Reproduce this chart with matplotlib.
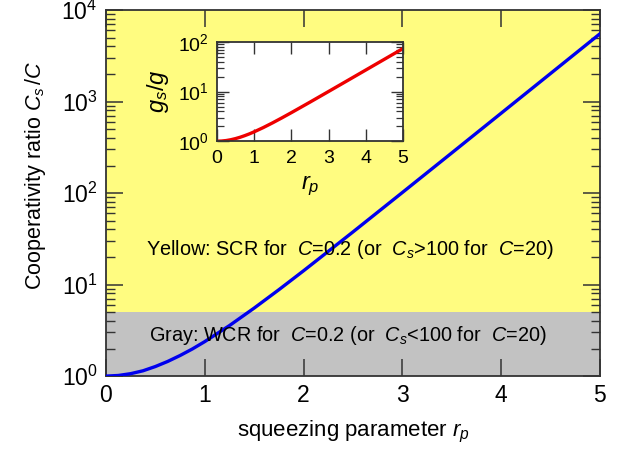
import matplotlib
matplotlib.use("Agg")
import matplotlib.pyplot as plt
import matplotlib.ticker as mticker

plt.rcParams.update({
    "font.family": "Liberation Sans",
    "mathtext.fontset": "custom",
    "mathtext.rm": "Liberation Sans",
    "mathtext.it": "Liberation Sans:italic",
    "mathtext.bf": "Liberation Sans:bold",
    "axes.edgecolor": "#333333",
    "axes.linewidth": 1.3,
})

# values
r_p = [0, 0.125, 0.25, 0.375, 0.5, 0.625, 0.75, 0.875, 1.0, 1.25, 1.5, 1.75,
       2.0, 2.5, 3.0, 3.5, 4.0, 4.5, 5.0]
coop_ratio = [1.0, 1.016, 1.063, 1.143, 1.272, 1.446, 1.678, 1.980, 2.381,
              3.565, 5.533, 8.785, 14.15, 37.6, 101.4, 274.6, 745.7, 2026, 5507]
g_ratio = [1.0, 1.008, 1.031, 1.071, 1.128, 1.202, 1.295, 1.407, 1.543,
           1.888, 2.352, 2.964, 3.762, 6.132, 10.07, 16.57, 27.31, 45.01, 74.21]

BOUNDARY = 5
YELLOW = "#FFFC80"
GRAY = "#C2C2C2"

fig = plt.figure(figsize=(6.23, 4.57), dpi=100)
ax = fig.add_axes([0.170, 0.177, 0.793, 0.801])
ax.set_yscale("log")
ax.set_xlim(0, 5)
ax.set_ylim(1, 1e4)
ax.axhspan(1, BOUNDARY, color=GRAY, lw=0, zorder=0)
ax.axhspan(BOUNDARY, 1e4, color=YELLOW, lw=0, zorder=0)
ax.plot(r_p, coop_ratio, color="#0000EE", lw=2.4, zorder=3)

ax.xaxis.set_major_locator(mticker.MultipleLocator(1))
ax.tick_params(which="both", direction="in", top=True, right=True,
               labelsize=16.5, colors="#333333", labelcolor="black")
ax.tick_params(which="major", length=12, width=1.1, pad=6)
ax.tick_params(which="minor", length=6.5, width=1.0)
ax.set_xlabel("squeezing parameter $r_p$", fontsize=16, labelpad=8)
ax.set_ylabel("Cooperativity ratio $C_s\\,/C$", fontsize=15.5, labelpad=4)
ax.yaxis.set_label_coords(-0.118, 0.55)

ax.text(2.47, 24, "Yellow: SCR for  $C$=0.2 (or  $C_s$>100 for  $C$=20)",
        ha="center", va="center", fontsize=14.3, zorder=4)
ax.text(2.45, 2.75, "Gray: WCR for  $C$=0.2 (or  $C_s$<100 for  $C$=20)",
        ha="center", va="center", fontsize=14.3, zorder=4)

ins = fig.add_axes([0.348, 0.691, 0.299, 0.217])
ins.set_facecolor("white")
ins.set_yscale("log")
ins.set_xlim(0, 5)
ins.set_ylim(1, 100)
ins.plot(r_p, g_ratio, color="#EE0000", lw=2.4)
ins.xaxis.set_major_locator(mticker.MultipleLocator(1))
ins.tick_params(which="both", direction="in", top=True, right=True,
                labelsize=14, colors="#333333", labelcolor="black")
ins.tick_params(which="major", length=8.5, width=1.0, pad=6)
ins.tick_params(which="minor", length=5, width=0.9)
ins.set_xlabel("$r_p$", fontsize=17, labelpad=5)
ins.set_ylabel("$g_s/g$", fontsize=17, labelpad=5)

fig.savefig("out.png", dpi=100)
